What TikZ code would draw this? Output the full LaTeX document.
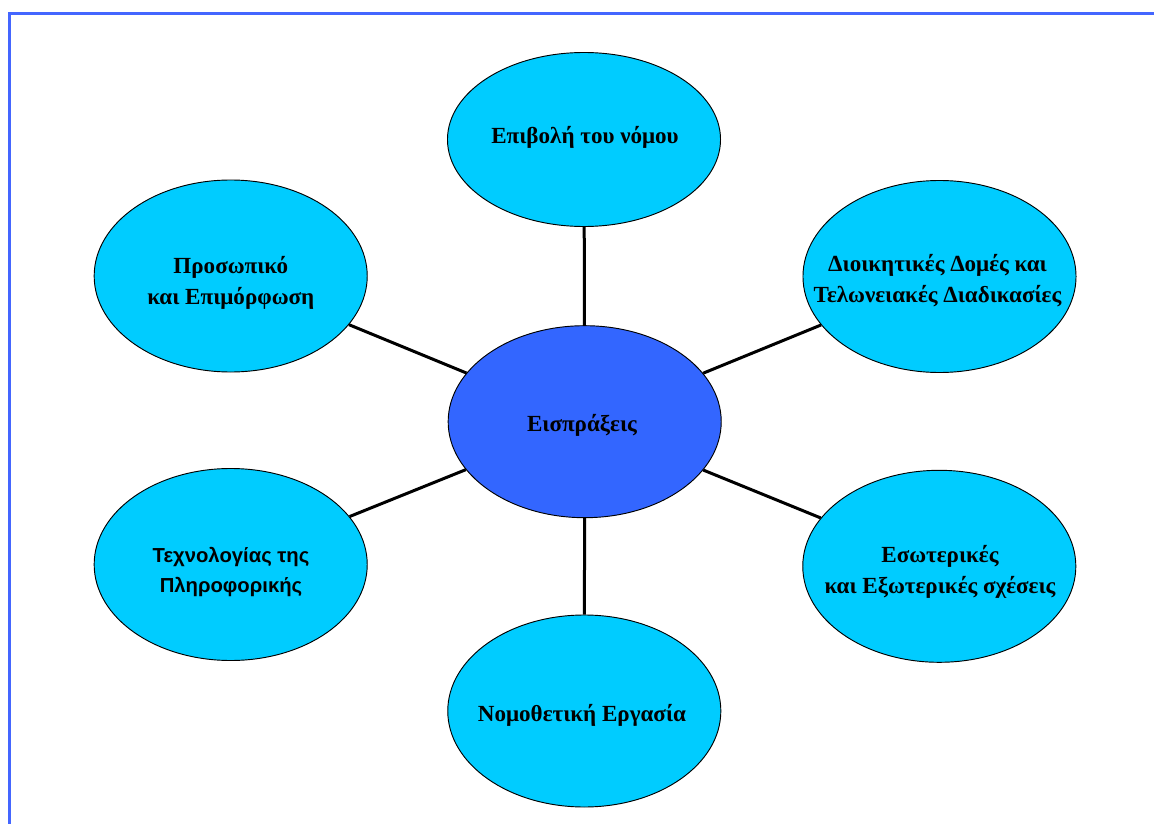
\documentclass[tikz,border=0pt]{standalone}
\usepackage{fontspec}
\setmainfont{Liberation Serif}
\newfontfamily\arialfont{Liberation Sans}
\usetikzlibrary{shapes.geometric}

\definecolor{bubblecyan}{HTML}{00CCFF}
\definecolor{hubblue}{HTML}{3366FF}
\definecolor{frameblue}{HTML}{4466FF}

\tikzset{
	bubble/.style = {ellipse, draw = black, line width = 0.7pt, fill = bubblecyan,
		minimum width = 204.8pt, minimum height = 144pt, inner sep = 0pt},
	caption/.style = {align = center, inner sep = 0pt,
		font = \fontsize{17.3}{23.2}\selectfont\bfseries},
	spoke/.style = {draw = black, line width = 2.25pt},
}

\begin{document}
\begin{tikzpicture}[x = 0.75pt, y = -0.75pt]
		\useasboundingbox (0,0) rectangle (1154,824);
		
		\draw [frameblue, line width = 1.6pt] (9.5,840) -- (9.5,13.5) -- (1170,13.5);
		
		% the six topics round the centre
		\node [bubble, fill = hubblue] (hub) at (584.7,421.7) {};
		\node [bubble, minimum height = 130.5pt] (law) at (584,139.5) {};
		\node [bubble] (staff) at (230.7,276) {};
		\node [bubble] (admin) at (939.5,276.5) {};
		\node [bubble] (tech) at (230.7,564.5) {};
		\node [bubble] (rel) at (939.3,566.3) {};
		\node [bubble] (legal) at (584.3,711) {};
		
		\begin{scope}[spoke]
		\draw (hub) -- (law);
		\draw (hub) -- (legal);
		\draw (hub) -- (staff);
		\draw (hub) -- (admin);
		\draw (hub) -- (tech);
		\draw (hub) -- (rel);
		\end{scope}
		
		\node [caption] (hub-text) at (582,425.3) {Εισπράξεις};
		\node [caption] (law-text) at (585,137) {Επιβολή του νόμου};
		\node [caption] (staff-text) at (230.8,282.5) {Προσωπικό\\και Επιμόρφωση};
		\node [caption] (admin-text) at (937.5,280.5) {Διοικητικές Δομές και\\Τελωνειακές Διαδικασίες};
		\node [caption, font = \arialfont\fontsize{15.2}{22.5}\selectfont\bfseries] (tech-text) at (231,572) {Τεχνολογίας της\\Πληροφορικής};
		\node [caption] (rel-text) at (940,571.7) {Εσωτερικές\\και Εξωτερικές σχέσεις};
		\node [caption] (legal-text) at (582,715.3) {Νομοθετική Εργασία};
	\end{tikzpicture}
\end{document}
